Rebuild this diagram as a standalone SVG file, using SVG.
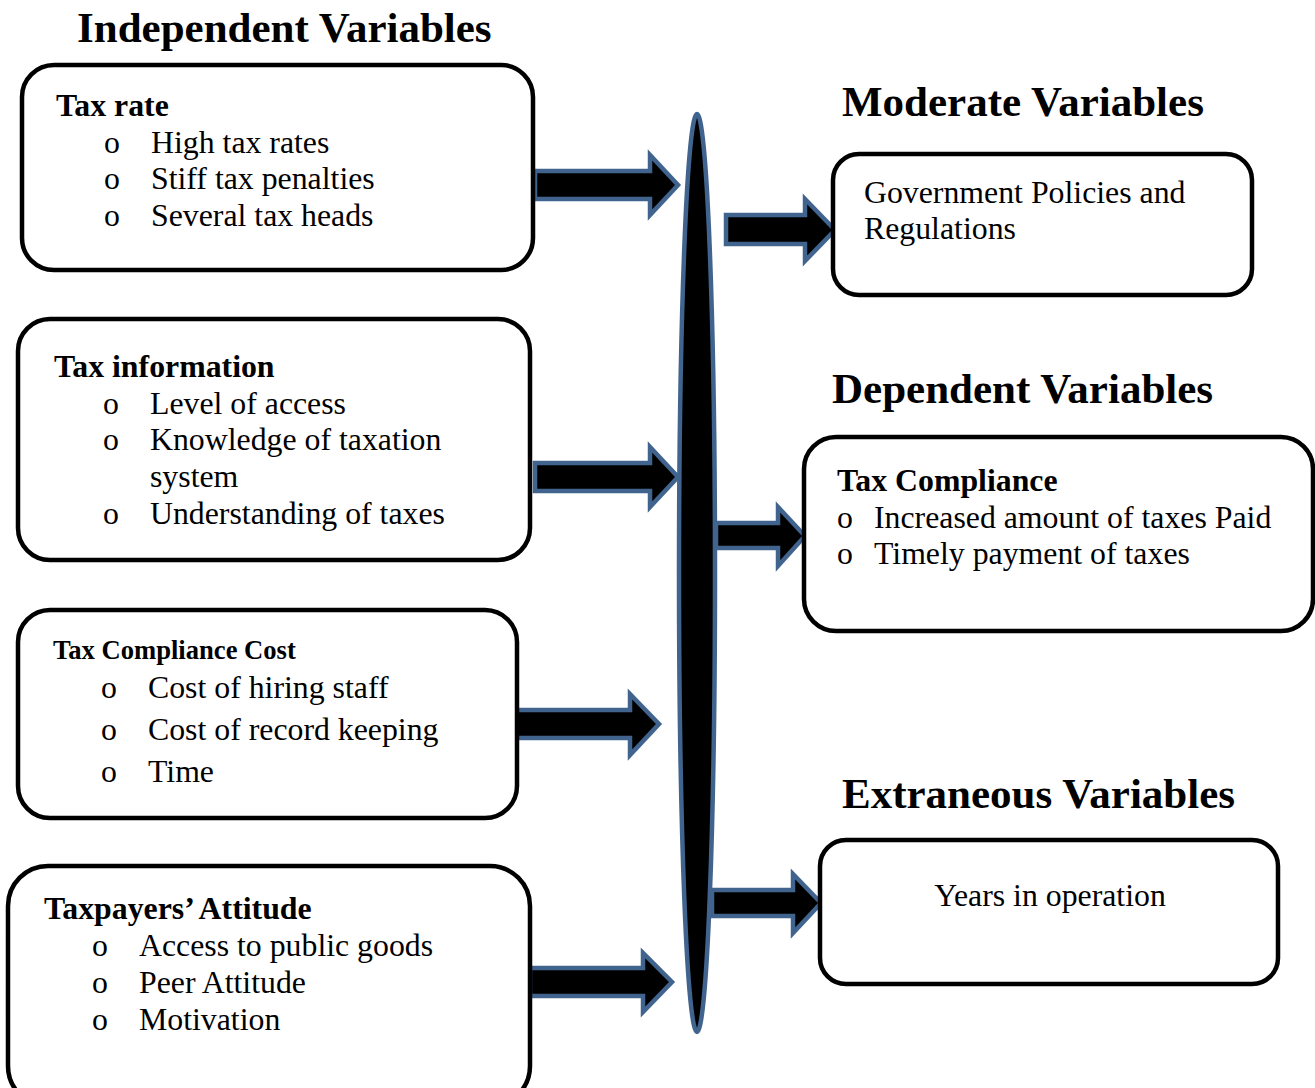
<svg xmlns="http://www.w3.org/2000/svg" width="1315" height="1088" viewBox="0 0 1315 1088">
<style>
.box{fill:#fff;stroke:#000;stroke-width:4.5}
.arr{fill:#000;stroke:#41648f;stroke-width:4.5;stroke-linejoin:miter}
.h{font-family:"Liberation Serif","Times New Roman",serif;font-weight:bold;font-size:43px;fill:#000}
.t{font-family:"Liberation Serif","Times New Roman",serif;font-size:31.8px;fill:#000}
.b{font-family:"Liberation Serif","Times New Roman",serif;font-size:31.8px;font-weight:bold;fill:#000}
.bs{font-family:"Liberation Serif","Times New Roman",serif;font-size:26.6px;font-weight:bold;fill:#000}
</style>
<rect width="1315" height="1088" fill="#fff"/>
<g id="headings">
<text class="h" x="77" y="42">Independent Variables</text>
<text class="h" x="842" y="116">Moderate Variables</text>
<text class="h" x="832" y="403">Dependent Variables</text>
<text class="h" x="842" y="808">Extraneous Variables</text>
</g>
<g id="connectors">
<ellipse cx="697" cy="573" rx="18" ry="459" fill="#000" stroke="#41648f" stroke-width="4.5"/>
<polygon class="arr" points="535,171 650,171 650,155 678,185 650,215 650,199 535,199"/>
<polygon class="arr" points="535,463 650,463 650,447 678,477 650,507 650,491 535,491"/>
<polygon class="arr" points="516,710 630,710 630,694 659,724 630,755 630,738 516,738"/>
<polygon class="arr" points="530,968 643,968 643,953 672,982 643,1012 643,996 530,996"/>
<polygon class="arr" points="726,215 805,215 805,199 835,230 805,261 805,244 726,244"/>
<polygon class="arr" points="716,523 778,523 778,507 805,536 778,566 778,548 716,548"/>
<polygon class="arr" points="712,890 793,890 793,874 821,903 793,933 793,916 712,916"/>
</g>
<g id="tax-rate">
<rect class="box" x="22" y="65" width="511" height="205" rx="32"/>
<text class="b" x="56" y="116">Tax rate</text>
<text class="t" x="104" y="153">o</text><text class="t" x="151" y="153">High tax rates</text>
<text class="t" x="104" y="189">o</text><text class="t" x="151" y="189">Stiff tax penalties</text>
<text class="t" x="104" y="226">o</text><text class="t" x="151" y="226">Several tax heads</text>
</g>
<g id="tax-information">
<rect class="box" x="18" y="319" width="512" height="241" rx="32"/>
<text class="b" x="54" y="377">Tax information</text>
<text class="t" x="103" y="414">o</text><text class="t" x="150" y="414">Level of access</text>
<text class="t" x="103" y="450">o</text><text class="t" x="150" y="450">Knowledge of taxation</text>
<text class="t" x="150" y="487">system</text>
<text class="t" x="103" y="524">o</text><text class="t" x="150" y="524">Understanding of taxes</text>
</g>
<g id="tax-compliance-cost">
<rect class="box" x="18" y="610" width="499" height="208" rx="32"/>
<text class="bs" x="53" y="659">Tax Compliance Cost</text>
<text class="t" x="101" y="698">o</text><text class="t" x="148" y="698">Cost of hiring staff</text>
<text class="t" x="101" y="740">o</text><text class="t" x="148" y="740">Cost of record keeping</text>
<text class="t" x="101" y="782">o</text><text class="t" x="148" y="782">Time</text>
</g>
<g id="taxpayers-attitude">
<rect class="box" x="8" y="866" width="522" height="240" rx="40"/>
<text class="b" x="44" y="919">Taxpayers’ Attitude</text>
<text class="t" x="92" y="956">o</text><text class="t" x="139" y="956">Access to public goods</text>
<text class="t" x="92" y="993">o</text><text class="t" x="139" y="993">Peer Attitude</text>
<text class="t" x="92" y="1030">o</text><text class="t" x="139" y="1030">Motivation</text>
</g>
<g id="government-policies">
<rect class="box" x="833" y="154" width="419" height="141" rx="26"/>
<text class="t" x="864" y="203">Government Policies and</text>
<text class="t" x="864" y="239">Regulations</text>
</g>
<g id="tax-compliance">
<rect class="box" x="804" y="437" width="509" height="194" rx="32"/>
<text class="b" x="837" y="491">Tax Compliance</text>
<text class="t" x="837" y="528">o</text><text class="t" x="874" y="528">Increased amount of taxes Paid</text>
<text class="t" x="837" y="564">o</text><text class="t" x="874" y="564">Timely payment of taxes</text>
</g>
<g id="years-in-operation">
<rect class="box" x="820" y="840" width="458" height="144" rx="26"/>
<text class="t" x="1050" y="906" text-anchor="middle">Years in operation</text>
</g>
</svg>
